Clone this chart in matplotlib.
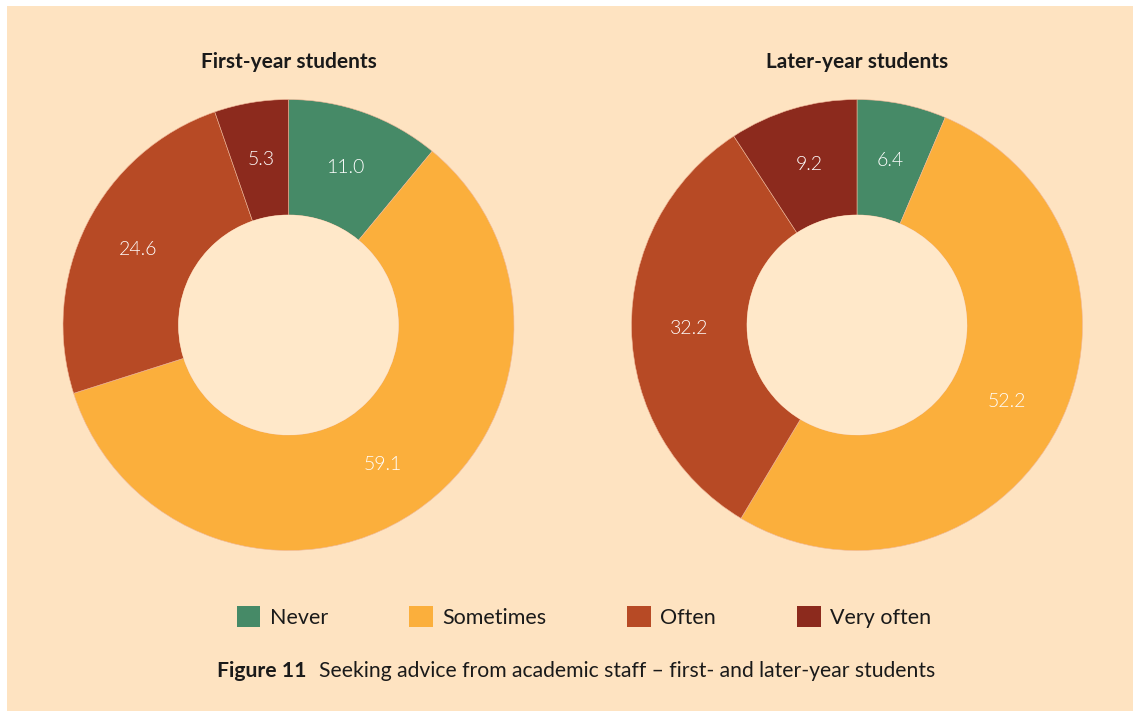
import matplotlib
matplotlib.use("Agg")
import matplotlib.pyplot as plt
from matplotlib.patches import Rectangle, Patch

categories = ["Never", "Sometimes", "Often", "Very often"]
first_year = [11.0, 59.1, 24.6, 5.3]
later_year = [6.4, 52.2, 32.2, 9.2]
titles = ["First-year students", "Later-year students"]
colors = ["#468A67", "#FBAF3C", "#B74A25", "#8C2A1D"]
caption_bold = "Figure 11"
caption_text = "Seeking advice from academic staff \u2013 first- and later-year students"

BG = "#FEE3C1"
HOLE = "#FFE8C9"
W, H = 1133, 711
fig = plt.figure(figsize=(W / 100, H / 100), dpi=100, facecolor="white")
fig.patches.append(Rectangle((7 / W, 0), 1 - 7 / W, 1 - 6 / H, transform=fig.transFigure,
                             facecolor=BG, edgecolor="none", zorder=-10))

FONT = "Lato"
R = 225.5
centers = [(288.5, 325), (857, 325)]
datasets = [first_year, later_year]
for (cx, cy), vals, title in zip(centers, datasets, titles):
    ax = fig.add_axes([(cx - R) / W, (H - cy - R) / H, 2 * R / W, 2 * R / H])
    ax.set_facecolor("none")
    wedges, texts = ax.pie(vals, colors=colors, startangle=90, counterclock=False,
                           radius=1.0, wedgeprops=dict(width=0.512, edgecolor="#F0B89A", linewidth=0.4),
                           labels=[f"{v:.1f}" for v in vals], labeldistance=0.744,
                           textprops=dict(color="white", fontsize=14, family=FONT, fontweight=300,
                                          ha="center", va="center"))
    for t in texts:
        t.set_zorder(10)
    ax.add_patch(plt.Circle((0, 0), 0.488, facecolor=HOLE, edgecolor="none", zorder=5))
    ax.set_xlim(-1, 1); ax.set_ylim(-1, 1)
    ax.set_aspect("equal")
    ax.axis("off")
    fig.text(cx / W, 1 - 62 / H, title, ha="center", va="center", fontsize=15,
             fontweight="bold", family=FONT, color="#1a1a1a")

handles = [Patch(facecolor=c, edgecolor="none") for c in colors]
leg = fig.legend(handles, categories, loc="center", bbox_to_anchor=(584 / W, 1 - 617 / H),
                 ncol=4, frameon=False, handlelength=1.1, handleheight=1.1, handletextpad=0.45,
                 columnspacing=3.75, prop=dict(family=FONT, size=15.5))
for t in leg.get_texts():
    t.set_color("#1a1a1a")

fig.text(217 / W, 1 - 671 / H, caption_bold, ha="left", va="center", fontsize=15.2,
         fontweight="bold", family=FONT, color="#1a1a1a")
fig.text(319 / W, 1 - 671 / H, caption_text, ha="left", va="center", fontsize=15.2,
         family=FONT, color="#1a1a1a")

fig.savefig("out.png", dpi=100, facecolor=fig.get_facecolor())
